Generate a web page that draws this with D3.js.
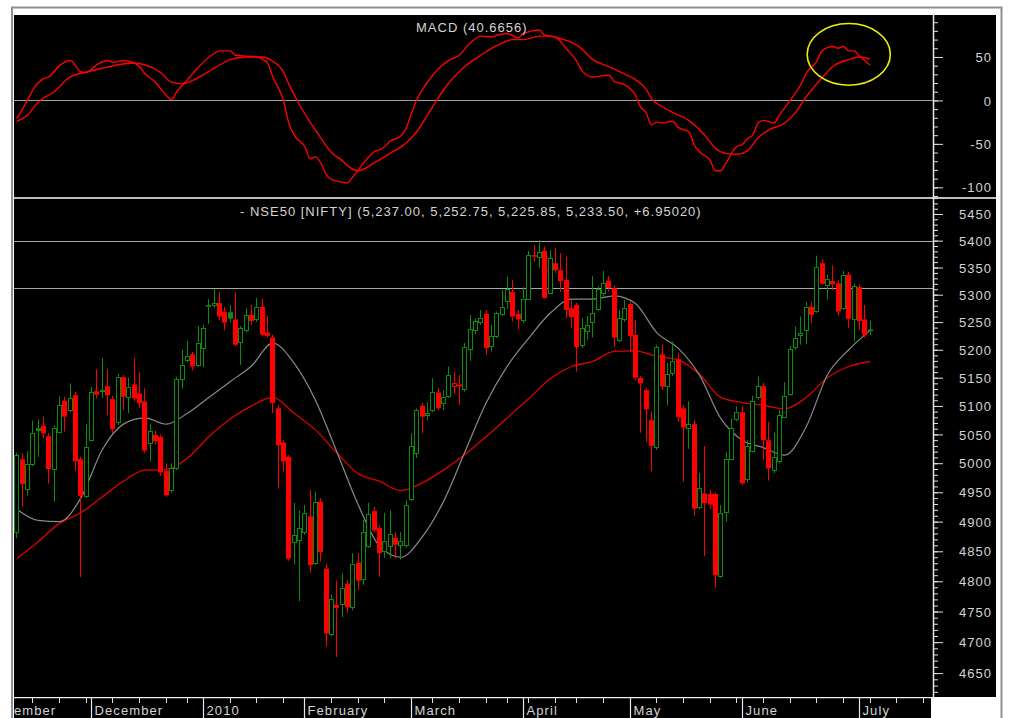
<!DOCTYPE html>
<html>
<head>
<meta charset="utf-8">
<script src="https://cdn.jsdelivr.net/npm/d3@7"></script>
<style>
  html, body { margin: 0; padding: 0; background: #fff; }
  svg { display: block; font-family: "Liberation Sans", Arial, sans-serif; }
</style>
</head>
<body>
<div id="chart"></div>
<script>
// trading days on the time axis (month -> days), incl. a few future days at the right edge
const tradingDays = [
  ["2009-11", [3, 4, 5, 6, 9, 10, 11, 12, 13, 16, 17, 18, 19, 20, 23, 24, 25, 26, 27, 30]],
  ["2009-12", [1, 2, 3, 4, 7, 8, 9, 10, 11, 14, 15, 16, 17, 18, 21, 22, 23, 24, 29, 30, 31]],
  ["2010-01", [4, 5, 6, 7, 8, 11, 12, 13, 14, 15, 18, 19, 20, 21, 22, 25, 27, 28, 29]],
  ["2010-02", [1, 2, 3, 4, 5, 8, 9, 10, 11, 12, 15, 16, 17, 18, 19, 22, 23, 24, 25, 26]],
  ["2010-03", [2, 3, 4, 5, 8, 9, 10, 11, 12, 15, 16, 17, 18, 19, 22, 23, 25, 26, 29, 30, 31]],
  ["2010-04", [1, 5, 6, 7, 8, 9, 12, 13, 15, 16, 19, 20, 21, 22, 23, 26, 27, 28, 29, 30]],
  ["2010-05", [3, 4, 5, 6, 7, 10, 11, 12, 13, 14, 17, 18, 19, 20, 21, 24, 25, 26, 27, 28, 31]],
  ["2010-06", [1, 2, 3, 4, 7, 8, 9, 10, 11, 14, 15, 16, 17, 18, 21, 22, 23, 24, 25, 28, 29, 30]],
  ["2010-07", [1, 2, 5, 6, 7, 8, 9, 12, 13, 14, 15, 16, 19, 20]]
];
const firstBarDate = "2009-11-11";
const monthLabelText = ["November", "December", "2010", "February", "March", "April", "May", "June", "July"];

// NIFTY daily OHLC, one value per bar from 2009-11-11
const opens = [4883,5007,4955,4998,5061,5065,5047,4990,5054,5109,
  5093,5119,5007,4944,5040,5126,5126,5135,5112,5071,
  5151,5116,5138,5122,5108,5035,5049,5046,4987,4954,
  4992,5147,5181,5192,5172,5204,5281,5281,5285,5269,
  5268,5255,5214,5235,5263,5256,5278,5231,5222,5096,
  5036,5011,4866,4869,4883,4909,4830,4934,4821,4714,
  4761,4762,4796,4758,4831,4803,4859,4918,4889,4850,
  4859,4873,4861,4861,4939,5017,5100,5084,5093,5124,
  5105,5118,5135,5138,5130,5201,5235,5251,5265,5207,
  5225,5265,5289,5305,5265,5253,5293,5373,5370,5381,
  5304,5358,5345,5327,5275,5281,5209,5233,5251,5274,
  5303,5326,5312,5218,5256,5283,5227,5150,5128,5075,
  5028,5192,5135,5158,5183,5096,5062,5068,4925,4948,
  4947,4947,4809,4917,5008,5077,5089,4972,5022,5116,
  5135,5040,4988,5003,5081,5121,5205,5227,5236,5278,
  5270,5358,5317,5325,5321,5275,5337,5256,5314,5255,
  5237];
const highs = [5018,5017,5021,5074,5076,5081,5052,5066,5117,5116,
  5140,5125,5011,5068,5134,5165,5185,5165,5118,5157,
  5155,5150,5185,5160,5131,5069,5057,5050,5000,5000,
  5152,5200,5216,5196,5243,5245,5292,5311,5305,5278,
  5281,5304,5243,5275,5281,5294,5292,5261,5227,5102,
  5040,5014,4932,4919,4928,4954,4951,4940,4829,4778,
  4801,4813,4802,4847,4847,4903,4932,4925,4894,4915,
  4919,4882,4882,4936,5052,5096,5105,5107,5149,5132,
  5128,5170,5161,5155,5212,5263,5257,5272,5272,5245,
  5269,5309,5333,5327,5272,5314,5381,5392,5401,5389,
  5382,5386,5377,5370,5290,5285,5257,5261,5334,5315,
  5344,5334,5317,5272,5290,5287,5254,5153,5132,5090,
  5209,5210,5177,5215,5195,5102,5108,5075,4983,5030,
  4954,4950,4928,5019,5078,5099,5100,5040,5118,5152,
  5141,5072,5053,5093,5142,5207,5242,5260,5287,5287,
  5372,5365,5337,5354,5326,5344,5342,5320,5319,5281,
  5252.75];
const lows = [4872,4925,4944,4995,5011,5043,4965,4934,5052,5055,
  5089,4987,4807,4940,5038,5113,5114,5084,5052,5066,
  5093,5087,5108,5096,5018,5003,5032,4978,4942,4949,
  4988,5131,5178,5163,5169,5169,5247,5276,5254,5235,
  5250,5206,5173,5231,5245,5250,5224,5222,5087,4956,
  4986,4834,4828,4767,4878,4814,4827,4833,4693,4710,
  4676,4741,4748,4752,4785,4794,4856,4882,4807,4839,
  4839,4838,4836,4856,4935,5009,5052,5075,5089,5093,
  5093,5114,5122,5102,5125,5180,5228,5245,5191,5197,
  5221,5261,5274,5251,5237,5248,5291,5361,5349,5293,
  5301,5340,5305,5257,5239,5161,5203,5218,5222,5270,
  5298,5306,5205,5214,5250,5197,5145,5053,5037,4986,
  5023,5128,5101,5153,5072,4968,5025,4910,4921,4842,
  4922,4789,4806,4900,5005,5073,4962,4967,5019,5111,
  5005,4970,4983,5000,5079,5118,5200,5209,5210,5248,
  5267,5317,5291,5308,5262,5272,5239,5215,5236,5222,
  5225.85];
const closes = [5014,4964,4999,5053,5056,5052,4990,5062,5101,5081,
  5114,5003,4944,5028,5124,5120,5128,5119,5059,5152,
  5116,5133,5113,5105,5022,5056,5038,4984,4945,4992,
  5148,5173,5188,5170,5213,5239,5278,5285,5260,5249,
  5256,5209,5239,5263,5252,5278,5227,5225,5105,5031,
  5003,4838,4877,4889,4915,4827,4934,4849,4714,4770,
  4756,4789,4757,4829,4801,4882,4913,4885,4847,4868,
  4879,4861,4867,4928,5029,5093,5081,5087,5124,5096,
  5116,5155,5141,5135,5205,5237,5252,5258,5203,5225,
  5266,5278,5310,5260,5255,5293,5373,5370,5378,5294,
  5367,5345,5325,5272,5259,5205,5239,5245,5266,5310,
  5321,5312,5222,5257,5276,5225,5150,5140,5094,5030,
  5205,5134,5156,5180,5080,5062,5068,4922,4957,4931,
  4929,4810,4915,5008,5061,5090,4965,5029,5109,5135,
  5040,4991,5011,5084,5118,5201,5221,5230,5278,5263,
  5351,5320,5329,5319,5269,5337,5256,5316,5252,5226.55,
  5233.5];
const prevClose = 4960; // close before the first bar, for the up/down colour

// moving averages, every 4th bar
const maBars = [0,4,8,12,16,20,24,28,32,36,40,44,48,52,56,60,64,68,72,76,80,
  84,88,92,96,100,104,108,112,116,120,124,128,132,136,140,144,148,152,156,160];
const maShort = [4921,4902,4900,4940,5023,5068,5079,5068,5087,5115,5143,5171,5212,5176,5110,5020,4929,4859,4840,4874,4934,
  5019,5105,5171,5221,5266,5292,5292,5298,5284,5231,5203,5155,5078,5040,5027,5014,5063,5155,5200,5235];
const maLong = [4838,4866,4897,4915,4942,4969,4988,4989,5009,5046,5077,5100,5115,5087,5058,5018,4982,4969,4953,4966,4988,
  5015,5046,5079,5113,5148,5170,5179,5197,5198,5188,5182,5156,5115,5106,5101,5095,5115,5150,5170,5179];

// MACD and its signal line (bar, value)
const macdBars = [0,2,3,5,6,8,10,12,13,15,17,18,20,21,23,24,26,28,29,30,32,34,37,38,40,41,43,45,47,48,50,51,52,54,55,56,57,58,59,61,62,63,64,66,67,68,69,70,72,73,74,75,76,78,79,81,83,85,87,89,90,92,94,95,98,99,101,103,105,106,108,111,112,114,116,117,118,119,120,121,123,124,126,127,128,130,131,132,133,135,136,137,138,139,140,142,143,145,147,148,150,151,153,154,155,156,157,158,159,160];
const macdValues = [-21,0,12,25,27,40,46,33,32,41,46,44,46,45,39,31,21,6,1,10,24,38,54,57,57,52,51,50,43,27,0,-26,-40,-53,-67,-65,-72,-85,-91,-94,-95,-88,-80,-65,-59,-57,-53,-47,-41,-32,-15,1,12,29,36,46,52,66,74,73,75,77,72,77,81,75,73,60,45,34,27,29,22,18,6,-8,-14,-28,-25,-26,-24,-31,-36,-51,-59,-69,-81,-81,-72,-53,-51,-44,-40,-26,-23,-26,-17,0,18,31,45,57,62,60,62,57,57,51,46,40.6656];
const signalBars = [0,2,4,7,10,12,16,19,22,24,27,29,31,33,37,40,43,46,48,50,51,53,55,57,59,61,62,64,67,70,73,75,78,80,84,87,90,93,95,98,100,102,104,106,108,111,113,116,118,119,121,123,126,129,131,133,135,137,139,141,144,146,148,151,153,156,158,160];
const signalValues = [-24,-17,-2,10,27,31,37,41,43,41,32,21,19,23,37,47,50,50,45,33,19,-5,-25,-43,-60,-69,-75,-81,-72,-61,-49,-36,-7,12,39,52,63,70,70,74,74,71,67,59,47,39,33,24,13,2,-7,-14,-23,-40,-55,-61,-62,-58,-43,-34,-26,-14,4,26,39,47,50,47.5];

// horizontal price lines and the circled MACD area
const priceLines = [5400, 5312];
const circleBar = 156, circleMacd = 53, circleHalfBars = 7.8, circleHalfMacd = 35.5;

const priceMajor = [4650,4700,4750,4800,4850,4900,4950,5000,5050,5100,5150,5200,5250,5300,5350,5400,5450];
const macdMajor = [-100, -50, 0, 50];

const W = 1010, H = 718;
const plotL = 14, plotR = 933, axisEnd = 996, stripR = 931;
const macdTop = 15, macdBot = 198, priceTop = 198, priceBot = 697;
const textColor = "#d4d4d4";
const upColor = "#0b8f0b", downColor = "#ff0000";

// dates
const dates = [];
tradingDays.forEach(([ym, days]) => days.forEach(d => {
  dates.push(new Date(`${ym}-${String(d).padStart(2, "0")}T00:00:00`));
}));
const firstIdx = dates.findIndex(d => d3.timeFormat("%Y-%m-%d")(d) === firstBarDate);

const x = d3.scaleLinear().domain([firstIdx - 0.525, firstIdx + 171.8]).range([plotL, plotR]);
const xb = i => x(firstIdx + i);
const yP = d3.scaleLog().domain([4611.7, 5480.2]).range([priceBot, priceTop]);
const yM = d3.scaleLinear().domain([-112.3, 98.3]).range([macdBot, macdTop]);

const svg = d3.select("#chart").append("svg").attr("width", W).attr("height", H);

// background and frame
svg.append("rect").attr("width", W).attr("height", H).attr("fill", "#fff");
svg.append("rect").attr("x", 12).attr("y", 7.5).attr("width", 989.5).attr("height", H)
  .attr("fill", "none").attr("stroke", "#8e8e8e").attr("stroke-width", 2);
svg.append("rect").attr("x", plotL).attr("y", macdTop).attr("width", axisEnd - plotL).attr("height", priceBot - macdTop).attr("fill", "#000");
svg.append("rect").attr("x", plotL).attr("y", priceBot).attr("width", stripR - plotL).attr("height", H - priceBot).attr("fill", "#000");

const defs = svg.append("defs");
defs.append("clipPath").attr("id", "clipM").append("rect")
  .attr("x", plotL).attr("y", macdTop).attr("width", plotR - plotL).attr("height", macdBot - macdTop);
defs.append("clipPath").attr("id", "clipP").append("rect")
  .attr("x", plotL).attr("y", priceTop).attr("width", plotR - plotL).attr("height", priceBot - priceTop);
defs.append("clipPath").attr("id", "clipX").append("rect")
  .attr("x", plotL).attr("y", priceBot).attr("width", stripR - plotL).attr("height", H - priceBot);

// ---------- MACD panel ----------
const gM = svg.append("g").attr("clip-path", "url(#clipM)");
gM.append("line").attr("x1", plotL).attr("x2", plotR)
  .attr("y1", Math.round(yM(0)) + 0.5).attr("y2", Math.round(yM(0)) + 0.5)
  .attr("stroke", "#a0a0a0").attr("stroke-width", 1);

const lineM = d3.line().x(d => xb(d[0])).y(d => yM(d[1])).curve(d3.curveMonotoneX);
gM.append("path").datum(signalBars.map((b, k) => [b, signalValues[k]]))
  .attr("d", lineM).attr("fill", "none").attr("stroke", "#ff0000").attr("stroke-width", 1.4);
gM.append("path").datum(macdBars.map((b, k) => [b, macdValues[k]]))
  .attr("d", lineM).attr("fill", "none").attr("stroke", "#ff0000").attr("stroke-width", 1.4);

gM.append("ellipse")
  .attr("cx", xb(circleBar)).attr("cy", yM(circleMacd))
  .attr("rx", xb(circleBar + circleHalfBars) - xb(circleBar))
  .attr("ry", yM(circleMacd - circleHalfMacd) - yM(circleMacd))
  .attr("fill", "none").attr("stroke", "#eeee00").attr("stroke-width", 1.6);

svg.append("text").attr("x", 416).attr("y", 32).text("MACD (40.6656)")
  .attr("fill", textColor).attr("font-size", 13).attr("letter-spacing", 1);

// ---------- price panel ----------
const gP = svg.append("g").attr("clip-path", "url(#clipP)");
priceLines.forEach(p => {
  const yy = Math.round(yP(p)) + 0.5;
  gP.append("line").attr("x1", plotL).attr("x2", plotR).attr("y1", yy).attr("y2", yy)
    .attr("stroke", "#a8a8a8").attr("stroke-width", 1);
});

const maLine = d3.line().x(d => xb(d[0])).y(d => yP(d[1])).curve(d3.curveMonotoneX);
gP.append("path").datum(maBars.map((b, k) => [b, maLong[k]]))
  .attr("d", maLine).attr("fill", "none").attr("stroke", "#e00000").attr("stroke-width", 1.3);
gP.append("path").datum(maBars.map((b, k) => [b, maShort[k]]))
  .attr("d", maLine).attr("fill", "none").attr("stroke", "#8a8a8a").attr("stroke-width", 1.2);

const bars = opens.map((o, i) => ({
  i, o, h: highs[i], l: lows[i], c: closes[i],
  up: closes[i] >= (i ? closes[i - 1] : prevClose),
  hollow: closes[i] > o
}));

const candle = gP.selectAll("g.candle").data(bars).join("g").attr("class", "candle");
candle.each(function (d) {
  const g = d3.select(this);
  const col = d.up ? upColor : downColor;
  const px = Math.floor(xb(d.i)) + 0.5;
  const yTop = yP(Math.max(d.o, d.c)), yBot = yP(Math.min(d.o, d.c));
  g.append("line").attr("x1", px).attr("x2", px).attr("y1", yP(d.h)).attr("y2", yTop)
    .attr("stroke", col).attr("stroke-width", 1);
  g.append("line").attr("x1", px).attr("x2", px).attr("y1", yBot).attr("y2", yP(d.l))
    .attr("stroke", col).attr("stroke-width", 1);
  if (d.hollow) {
    const t = Math.round(yTop) + 0.5;
    g.append("rect").attr("x", px - 2).attr("width", 4)
      .attr("y", t).attr("height", Math.max(1, Math.round(yBot) + 0.5 - t))
      .attr("fill", "#000").attr("stroke", col).attr("stroke-width", 1);
  } else {
    g.append("rect").attr("x", px - 2.5).attr("width", 5)
      .attr("y", yTop).attr("height", Math.max(1.5, yBot - yTop))
      .attr("fill", col);
  }
});

svg.append("text").attr("x", 240).attr("y", 215.5)
  .text("- NSE50 [NIFTY] (5,237.00, 5,252.75, 5,225.85, 5,233.50, +6.95020)")
  .attr("fill", textColor).attr("font-size", 13).attr("letter-spacing", 1);

// panel separator
svg.append("line").attr("x1", plotL).attr("x2", axisEnd).attr("y1", 198).attr("y2", 198)
  .attr("stroke", "#fff").attr("stroke-width", 1.6);

// ---------- right axes ----------
const axisG = svg.append("g").attr("transform", `translate(${plotR},0)`);
const plainNum = v => String(v); // hyphen minus, as on the original

function drawAxis(scale, minorVals, majorVals) {
  axisG.append("g").call(d3.axisRight(scale).tickValues(minorVals).tickSize(5).tickFormat(""))
    .call(g => g.select(".domain").remove());
  const maj = axisG.append("g").call(d3.axisRight(scale).tickValues(majorVals).tickSize(10).tickFormat(plainNum))
    .call(g => g.select(".domain").remove());
  maj.selectAll("text").attr("x", 992 - plotR).attr("dy", "0.36em")
    .attr("text-anchor", "end").attr("fill", textColor)
    .attr("font-size", 13).attr("letter-spacing", 1)
    .attr("font-family", "'Liberation Sans', Arial, sans-serif");
  axisG.selectAll("line").attr("stroke", "#e0e0e0");
}
drawAxis(yP, d3.range(4620, 5481, 10), priceMajor);
drawAxis(yM, d3.range(-110, 91, 10), macdMajor);

svg.append("line").attr("x1", plotR + 0.5).attr("x2", plotR + 0.5).attr("y1", macdTop).attr("y2", priceBot)
  .attr("stroke", "#e8e8e8").attr("stroke-width", 1.5);

// ---------- time axis strip ----------
const gX = svg.append("g").attr("clip-path", "url(#clipX)");
gX.append("line").attr("x1", plotL).attr("x2", stripR).attr("y1", priceBot + 0.5).attr("y2", priceBot + 0.5)
  .attr("stroke", "#f0f0f0").attr("stroke-width", 1.5);

let monthCount = 0;
dates.forEach((d, k) => {
  const prev = k ? dates[k - 1] : null;
  const xx = Math.floor(x(k)) + 0.5;
  const newMonth = !prev || prev.getMonth() !== d.getMonth();
  const newWeek = !prev || +d3.timeMonday.floor(prev) !== +d3.timeMonday.floor(d);
  if (newMonth) {
    gX.append("line").attr("x1", xx).attr("x2", xx).attr("y1", priceBot).attr("y2", H)
      .attr("stroke", "#e8e8e8").attr("stroke-width", 1.2);
    gX.append("text").attr("x", xx + 3).attr("y", 715).text(monthLabelText[monthCount++])
      .attr("fill", textColor).attr("font-size", 13).attr("letter-spacing", 1.1);
  } else if (newWeek) {
    gX.append("line").attr("x1", xx).attr("x2", xx).attr("y1", priceBot).attr("y2", priceBot + 6)
      .attr("stroke", "#e8e8e8").attr("stroke-width", 1);
  }
});
</script>
</body>
</html>
